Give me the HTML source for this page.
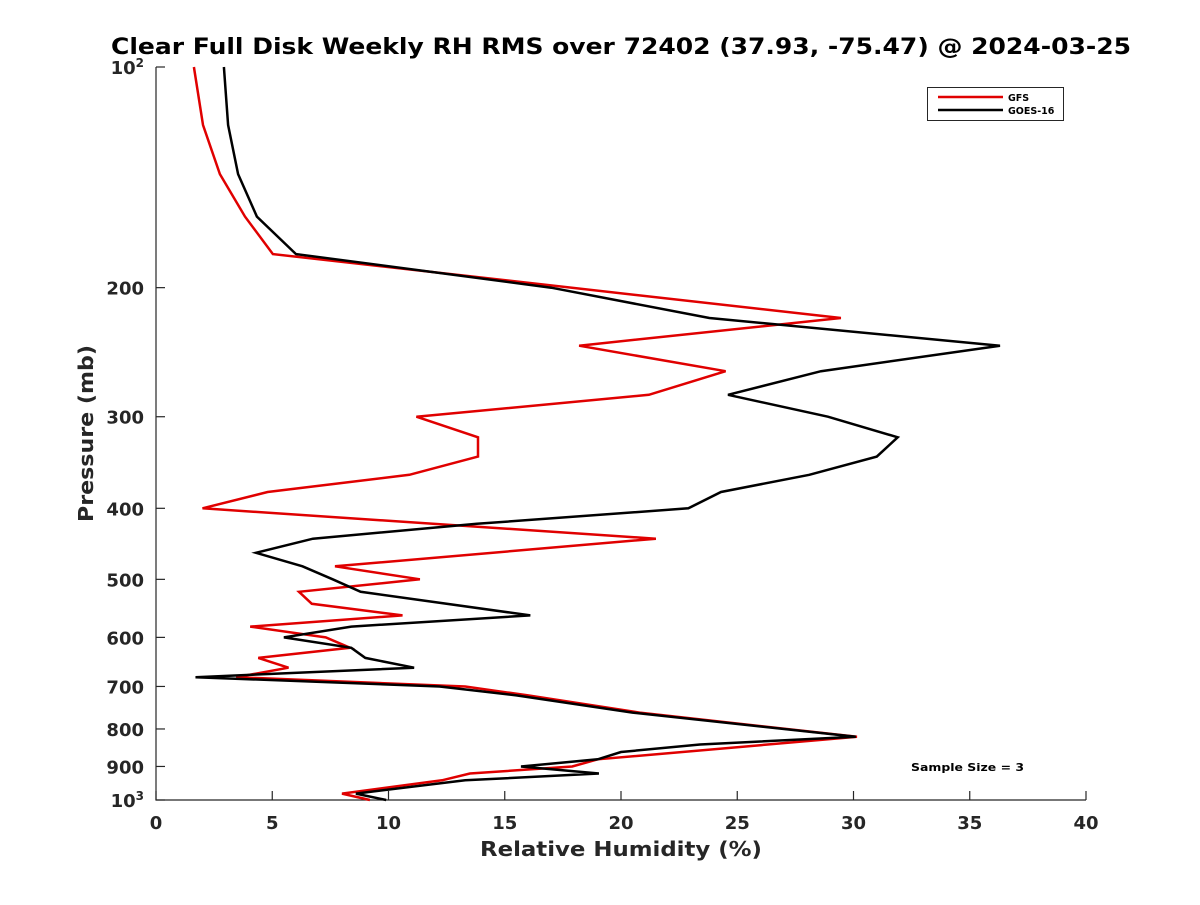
<!DOCTYPE html>
<html><head><meta charset="utf-8"><style>
body{margin:0;background:#fff}
svg text{font-family:"DejaVu Sans","Liberation Sans",sans-serif;font-weight:bold;fill:#262626}
</style></head><body>
<svg id="chart" width="1200" height="900" xmlns="http://www.w3.org/2000/svg">
<text x="111" y="54" font-size="22" textLength="1020" lengthAdjust="spacingAndGlyphs" style="fill:#000">Clear Full Disk Weekly RH RMS over 72402 (37.93, -75.47) @ 2024-03-25</text>
<g id="axes"></g>
<g id="series"></g>
<g>
<rect x="927.5" y="87.5" width="136" height="33" fill="#fff" stroke="#262626" stroke-width="1"/>
<line x1="938" y1="97" x2="1003" y2="97" stroke="#e00000" stroke-width="2.5"/>
<line x1="938" y1="110" x2="1003" y2="110" stroke="#000" stroke-width="2.5"/>
<text x="1008" y="101" font-size="9.5" style="fill:#000">GFS</text>
<text x="1008" y="114" font-size="9.5" style="fill:#000">GOES-16</text>
</g>
<text x="911" y="771" font-size="11" textLength="113" lengthAdjust="spacingAndGlyphs" style="fill:#000">Sample Size = 3</text>
<text x="480" y="856" font-size="20" textLength="282" lengthAdjust="spacingAndGlyphs">Relative Humidity (%)</text>
<text transform="translate(93,522) rotate(-90)" font-size="20" textLength="177" lengthAdjust="spacingAndGlyphs">Pressure (mb)</text>
</svg>
<script>
const xTicks=[0,5,10,15,20,25,30,35,40];
const yTicks=[100,200,300,400,500,600,700,800,900,1000];
const yTickBase=['10','200','300','400','500','600','700','800','900','10'];
const yTickSup=['2','','','','','','','','','3'];
const gfsP=[100,120,140,160,180,220,240,260,280,300,320,340,360,380,400,440,480,500,520,540,560,580,600,620,640,660,680,700,720,760,820,880,900,920,940,980,1000];
const gfsRH=[1.63,2.02,2.75,3.83,5.03,29.46,18.2,24.5,21.2,11.2,13.85,13.85,10.9,4.8,2.0,21.5,7.7,11.35,6.15,6.7,10.6,4.05,7.3,8.35,4.4,5.7,3.45,13.3,16.0,20.8,30.15,19.0,17.9,13.5,12.3,8.0,9.2];
const goesP=[100,120,140,160,180,200,220,240,260,280,300,320,340,360,380,400,420,440,460,480,500,520,560,580,600,620,640,660,680,700,720,760,820,840,860,880,900,920,940,980,1000];
const goesRH=[2.92,3.1,3.53,4.34,6.02,17.0,23.8,36.3,28.6,24.6,28.9,31.9,31.0,28.1,24.3,22.9,13.8,6.75,4.3,6.3,7.6,8.8,16.1,8.4,5.5,8.4,9.0,11.1,1.7,12.2,15.5,20.5,30.1,23.4,20.0,19.0,15.7,19.05,13.3,8.6,9.9];
const L=156,R=1086,T=67,B=800;
const xs=v=>L+(v-0)/(40-0)*(R-L);
const ys=p=>T+(Math.log10(p)-2)*(B-T);
const NS='http://www.w3.org/2000/svg';
const ax=document.getElementById('axes'),se=document.getElementById('series');
function mk(tag,at,par){const e=document.createElementNS(NS,tag);for(const k in at)e.setAttribute(k,at[k]);par.appendChild(e);return e;}
const frame=mk('path',{d:`M${L},${T}V${B}H${R}`,fill:'none',stroke:'#262626','stroke-width':1.2},ax);


xTicks.forEach(v=>{const x=xs(v);
mk('line',{x1:x,y1:B,x2:x,y2:B-9,stroke:'#262626','stroke-width':1.2},ax);
const t=mk('text',{x:x,y:B+29,'text-anchor':'middle','font-size':18},ax);t.textContent=v;

});
yTicks.forEach((p,i)=>{const y=ys(p);
mk('line',{x1:L,y1:y,x2:L+9,y2:y,stroke:'#262626','stroke-width':1.2},ax);
const t=mk('text',{x:L-12,y:y+7,'text-anchor':'end','font-size':18},ax);


t.appendChild(document.createTextNode(yTickBase[i]));
if(yTickSup[i]){const s=document.createElementNS(NS,'tspan');s.setAttribute('dy','-7');s.setAttribute('font-size','12');s.textContent=yTickSup[i];t.appendChild(s);}
});
function line(P,V,c,name){const d=P.map((p,i)=>(i?'L':'M')+xs(V[i]).toFixed(1)+','+ys(p).toFixed(1)).join('');
const e=mk('path',{d:d,fill:'none',stroke:c,'stroke-width':2.5,'stroke-linejoin':'miter'},se);

}
line(gfsP,gfsRH,'#e00000','gfs-line');
line(goesP,goesRH,'#000','goes16-line');
</script>
</body></html>
